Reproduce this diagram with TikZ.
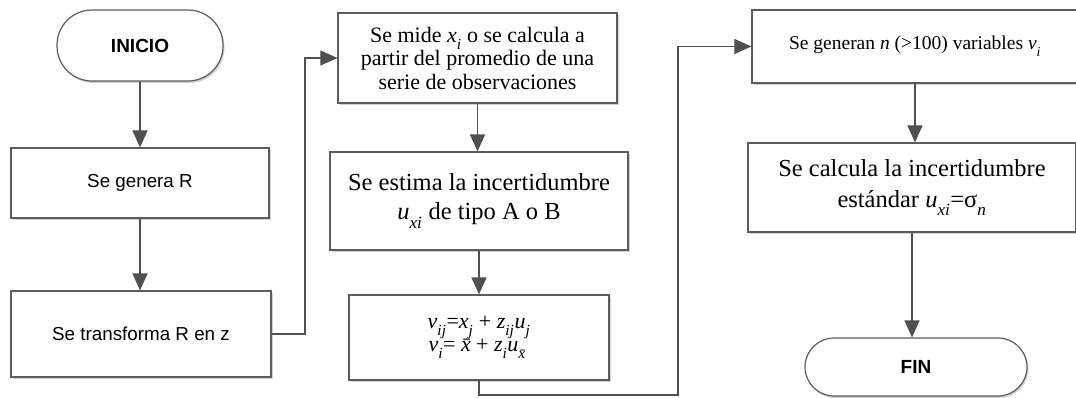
\documentclass[tikz,border=0pt]{standalone}
\usepackage{fontspec}
\setmainfont{Liberation Serif}
\newfontfamily\arialfont{Liberation Sans}
\usetikzlibrary{arrows.meta,shadows}

\definecolor{boxgray}{HTML}{5C5C5C}
\definecolor{linegray}{HTML}{505050}
\newcommand{\isub}[2]{\textit{#1}\raisebox{-0.18em}{\textsubscript{\textit{#2}}}}

\tikzset{
  box/.style={draw=boxgray, line width=1.2pt, fill=white, align=center,
    drop shadow={shadow xshift=1.5pt, shadow yshift=-2pt, fill=black, opacity=0.18}},
  term/.style={box, rounded corners=#1, font=\arialfont\bfseries\fontsize{19}{23}\selectfont},
  sanstext/.style={font=\arialfont\fontsize{18.8}{23}\selectfont},
  flow/.style={draw=linegray, line width=1.5pt, -{Triangle[length=17pt,width=15pt]}},
  link/.style={draw=linegray, line width=1.1pt, -{Triangle[length=17pt,width=15pt]}},
}

\begin{document}
\begin{tikzpicture}[x=1pt,y=-1pt]
\useasboundingbox (0,0) rectangle (1076,397);

% first column
\node[term=35pt, minimum width=166pt, minimum height=71pt] (inicio) at (140,45.5) {INICIO};
\node[box, sanstext, minimum width=258pt, minimum height=70pt] (genR) at (140,183) {Se genera R};
\node[box, sanstext, minimum width=260pt, minimum height=86pt] (transR) at (141,334) {Se transforma R en z};

% second column
\node[box, font=\fontsize{22}{23.5}\selectfont, minimum width=279pt, minimum height=90pt] (mide) at (477.5,58)
  {Se mide \isub{x}{i} o se calcula a\\partir del promedio de una\\serie de observaciones};
\node[box, font=\fontsize{24.5}{29}\selectfont, minimum width=298pt, minimum height=98pt] (estima) at (479,201)
  {Se estima la incertidumbre\\\isub{u}{xi} de tipo A o B};
\node[box, font=\fontsize{22}{23}\selectfont, minimum width=260pt, minimum height=85pt] (formula) at (479,337.5)
  {\isub{v}{ij}=\isub{x}{j} + \isub{z}{ij}\isub{u}{j}\\\isub{v}{i}= \textit{\={x}}+ \isub{z}{i}\isub{u}{\={x}}};

% third column
\node[box, font=\fontsize{19.5}{23}\selectfont, minimum width=326pt, minimum height=73pt] (generan) at (915,46.5)
  {Se generan \textit{n} (>100) variables \isub{v}{i}};
\node[box, font=\fontsize{24.5}{31}\selectfont, minimum width=328pt, minimum height=89pt] (calcula) at (912,187.5)
  {Se calcula la incertidumbre\\estándar \isub{u}{xi}=σ\raisebox{-0.18em}{\textsubscript{\textit{n}}}};
\node[term=29pt, minimum width=222pt, minimum height=58pt] (fin) at (916,367) {FIN};

\coordinate (bendA) at (305,58);
\coordinate (bendB) at (678,395);

\draw[flow] (inicio.south) -- (inicio.south |- genR.north);
\draw[flow] (genR.south) -- (genR.south |- transR.north);
\draw[link] (transR.east) -| (bendA) -- (mide.west);
\draw[flow] (mide.south) -- (mide.south |- estima.north);
\draw[flow] (estima.south) -- (estima.south |- formula.north);
\draw[link] (formula.south) |- (bendB) |- (generan.west);
\draw[flow] (generan.south) -- (generan.south |- calcula.north);
\draw[flow] (calcula.south) -- (calcula.south |- fin.north);
\end{tikzpicture}
\end{document}
